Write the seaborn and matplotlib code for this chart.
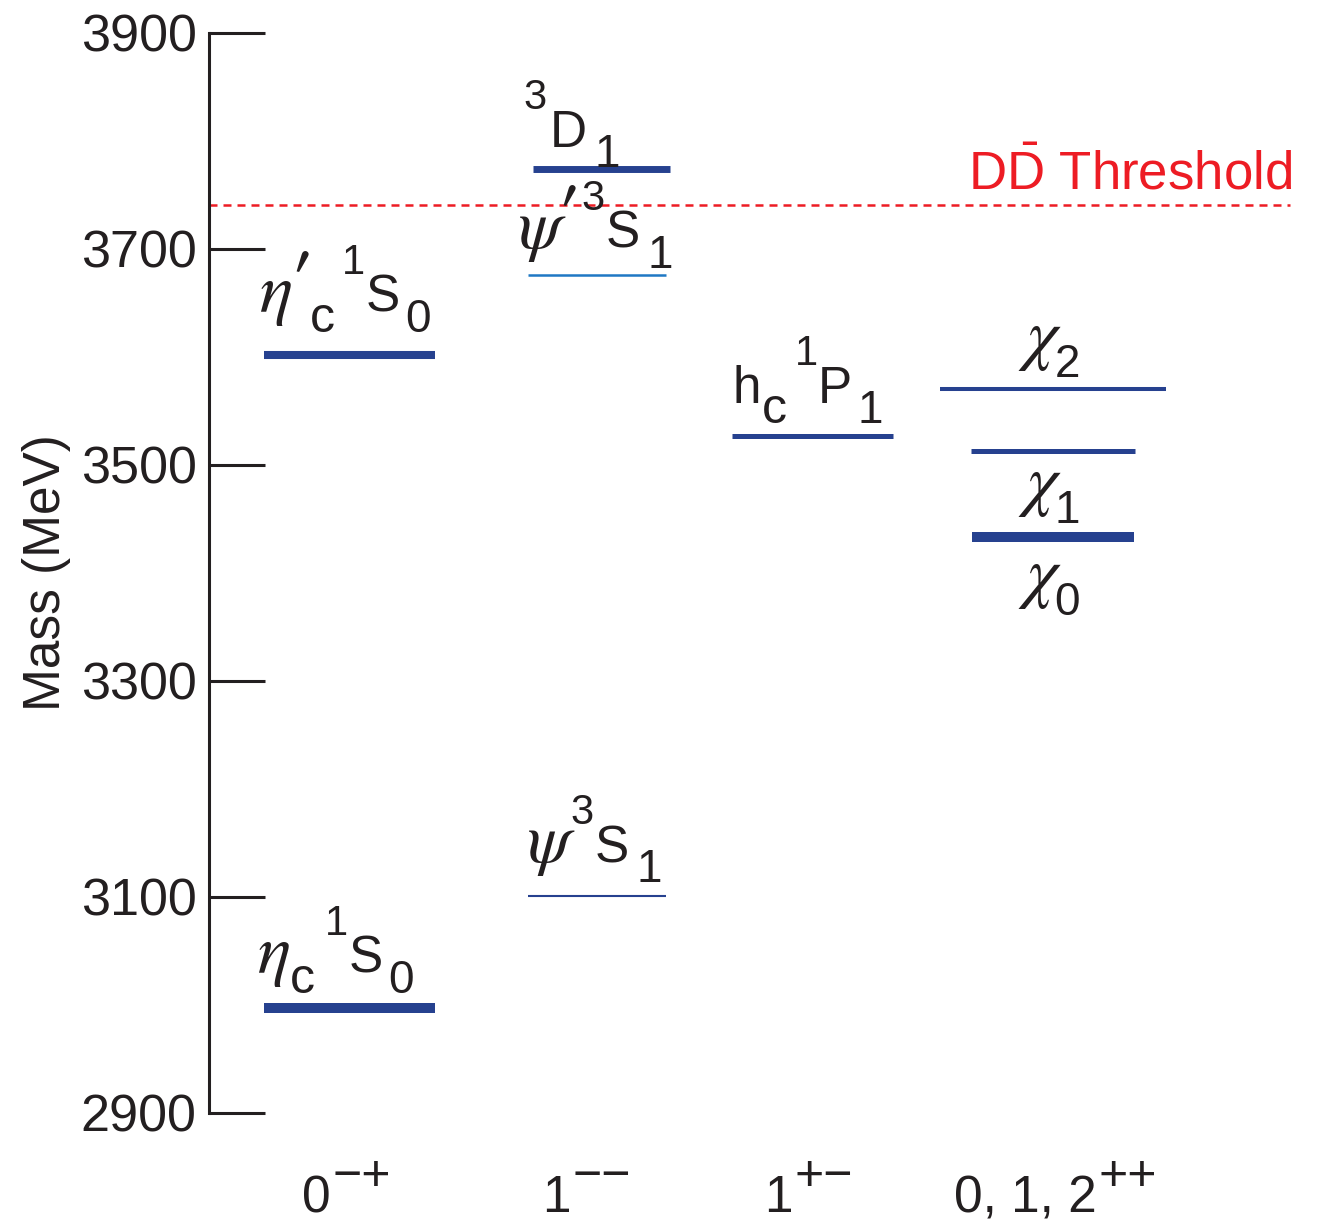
import pandas as pd
import matplotlib
matplotlib.use("Agg")
import matplotlib.pyplot as plt
import seaborn as sns

# charmonium levels (MeV)
states = ["eta_c", "J/psi", "eta_c(2S)", "psi(2S)", "psi(3770)", "h_c", "chi_c0", "chi_c1", "chi_c2"]
masses = [2997, 3101, 3602, 3676, 3774, 3527, 3433, 3513, 3570]
jpc = ["0-+", "1--", "0-+", "1--", "1--", "1+-", "0,1,2++", "0,1,2++", "0,1,2++"]
threshold = 3741
columns = ["0-+", "1--", "1+-", "0,1,2++"]

# label pieces: (text, font kind, gap before [px], rise [px])
labels = [
    [("η", "greek", 0, 0), ("c", "csub", 0, -20), ("1", "sup", 10, 38), ("S", "main", 1, 0), ("0", "sub", 5, -20)],
    [("ψ", "greek", 0, 0), ("3", "sup", 2, 38), ("S", "main", 1, 0), ("1", "sub", 8, -20)],
    [("η", "greek", 0, 0), ("′", "prime", -2, 8), ("c", "csub", -4, -20), ("1", "sup", 7, 38),
     ("S", "main", 1, 0), ("0", "sub", 5, -20)],
    [("ψ", "greek", 0, 0), ("′", "prime", -2, 10), ("3", "sup", 1, 38), ("S", "main", 1, 0), ("1", "sub", 8, -20)],
    [("3", "sup", 0, 38), ("D", "main", 3, 0), ("1", "sub", 8, -20)],
    [("h", "main", 0, 0), ("c", "csub", 0, -20), ("1", "sup", 8, 38), ("P", "main", 0, 0), ("1", "sub", 6, -20)],
    [("χ", "greek", 0, 0), ("0", "sub", -3, -20)],
    [("χ", "greek", 0, 0), ("1", "sub", -3, -20)],
    [("χ", "greek", 0, 0), ("2", "sub", -3, -20)],
]
column_labels = [
    [("0", "main", 0, 0), ("−+", "tsup", 2, 22)],
    [("1", "main", 0, 0), ("−−", "tsup", 2, 22)],
    [("1", "main", 0, 0), ("+−", "tsup", 2, 22)],
    [("0, 1, 2", "main", 0, 0), ("++", "tsup", 2, 22)],
]

# layout (x in column units) and line styles
col_x = {"0-+": 0.58, "1--": 1.60, "1+-": 2.49, "0,1,2++": 3.48}
shift = [0.0, 0.0, 0.0, 0.0, 0.02, 0.0, 0.0, 0.0, 0.0]
half_w = [0.353, 0.285, 0.353, 0.285, 0.283, 0.332, 0.333, 0.338, 0.466]
lw = [7.2, 1.5, 5.8, 1.8, 5.0, 3.6, 7.2, 3.6, 2.9]
colors = ["#26418f"] * 9
colors[3] = "#1f78c4"
# label placement: x offset from level centre, MeV offset of the baseline
lab_dx = [-0.06, -0.008, -0.02, -0.004, -0.123, -0.019, 0.0, 0.0, 0.0]
lab_dy = [33, 31, 40, 25, 20, 30, -53, -48, 30]
col_lab_x = [0.569, 1.559, 2.471, 3.49]

sns.set_style("ticks")
plt.rcParams["font.family"] = ["Liberation Sans", "DejaVu Sans"]
plt.rcParams["mathtext.fontset"] = "custom"
plt.rcParams["mathtext.rm"] = "Liberation Sans"
plt.rcParams["mathtext.sf"] = "Liberation Sans"
plt.rcParams["mathtext.it"] = "Liberation Sans:italic"
plt.rcParams["mathtext.bf"] = "Liberation Sans:bold"
ink = "#231f20"
fonts = {
    "main": dict(family="Liberation Sans", size=37),
    "csub": dict(family="Liberation Sans", size=36),
    "sub": dict(family="Liberation Sans", size=33),
    "sup": dict(family="Liberation Sans", size=30),
    "tsup": dict(family="Liberation Sans", size=36),
    "greek": dict(family=["STIXGeneral", "DejaVu Serif"], style="italic", size=50),
    "prime": dict(family=["STIXGeneral", "DejaVu Sans"], weight="bold", size=54),
}

rows = []
for i, s in enumerate(states):
    xc = col_x[jpc[i]] + shift[i]
    rows.append({"state": s, "x": xc - half_w[i], "mass": masses[i]})
    rows.append({"state": s, "x": xc + half_w[i], "mass": masses[i]})
df = pd.DataFrame(rows)

fig = plt.figure(figsize=(13.21, 12.26), dpi=100)
ax = fig.add_axes([0.1582, 0.0922, 0.826, 0.8809])
renderer = fig.canvas.get_renderer()

sns.lineplot(data=df, x="x", y="mass", hue="state", size="state",
             palette=dict(zip(states, colors)), sizes=dict(zip(states, lw)),
             units="state", estimator=None, legend=False, ax=ax,
             solid_capstyle="butt")


def put_label(xy, pieces, xycoords="data"):
    # lay the pieces out left to right, centred on xy
    texts, widths = [], []
    for s, kind, gap, rise in pieces:
        t = ax.annotate(s, xy, xycoords=xycoords, xytext=(0, 0),
                        textcoords="offset points", ha="left", va="baseline",
                        color=ink, annotation_clip=False, **fonts[kind])
        texts.append(t)
        widths.append(t.get_window_extent(renderer).width)
    total = sum(p[2] for p in pieces) + sum(widths)
    cur = -total / 2
    for t, w, p in zip(texts, widths, pieces):
        cur += p[2]
        t.set_position((cur * 0.72, p[3] * 0.72))
        cur += w


for i, s in enumerate(states):
    xc = col_x[jpc[i]] + shift[i]
    put_label((xc + lab_dx[i], masses[i] + lab_dy[i]), labels[i])

for x, pieces in zip(col_lab_x, column_labels):
    put_label((x, -0.092), pieces, xycoords=ax.get_xaxis_transform())

ax.plot([0, 4.46], [threshold, threshold], color="#ed1c24", lw=1.8,
        dashes=(3.2, 2.4), clip_on=False)
ax.text(4.467, threshold + 14, r"$\mathrm{D}\bar{\mathrm{D}}$ Threshold",
        ha="right", va="baseline", fontsize=38, color="#ed1c24")

ax.set_xlim(0, 4.5)
ax.set_ylim(2900, 3900)
ax.set_yticks([2900, 3100, 3300, 3500, 3700, 3900])
ax.set_xticks([])
ax.set_xlabel("")
ax.set_ylabel("Mass (MeV)", fontsize=37, color=ink, labelpad=7)

for side in ["top", "right", "bottom"]:
    ax.spines[side].set_visible(False)
ax.spines["left"].set_linewidth(2.2)
ax.spines["left"].set_color(ink)
ax.tick_params(axis="y", direction="in", length=40, width=2.2, pad=9,
               labelsize=37.5, colors=ink)

fig.savefig("out.png", dpi=100)
